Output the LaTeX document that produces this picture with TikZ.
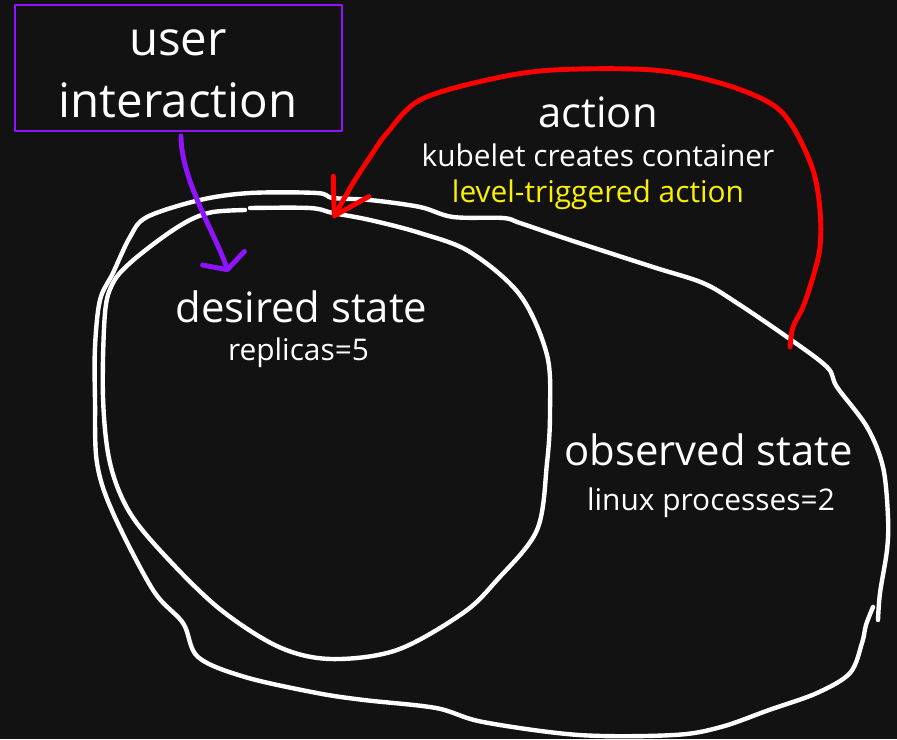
\documentclass[tikz,border=0pt]{standalone}
\usepackage{fontspec}
\setmainfont{Open Sans}
\definecolor{canvasBg}{HTML}{121212}
\definecolor{penRed}{HTML}{FF0000}
\definecolor{penViolet}{HTML}{9013FE}
\definecolor{penYellow}{HTML}{FAF000}
\usetikzlibrary{arrows.meta}

\begin{document}
\begin{tikzpicture}[
    x=0.02cm, y=-0.02cm,
    line cap=round, line join=round,
    blobline/.style={white, line width=2.5pt},
    redpen/.style={penRed, line width=2.8pt},
    violetpen/.style={penViolet, line width=2.8pt},
    uibox/.style={draw=penViolet, line width=1.2pt, minimum width=6.54cm, minimum height=2.52cm, inner sep=0pt},
    uitxt/.style={anchor=base, inner sep=0pt, text=white, font=\fontsize{27}{32}\selectfont},
    bigtxt/.style={anchor=base, inner sep=0pt, text=white, font=\fontsize{23.8}{28}\selectfont},
    smalltxt/.style={anchor=base, inner sep=0pt, text=white, font=\fontsize{17}{20}\selectfont}
  ]
    \fill[canvasBg] (0,0) rectangle (897,739);

    % user box
    \node[uibox] (ui) at (178.5,68) {};
    \node[uitxt] (uiUser) at (178,55) {user};
    \node[uitxt] (uiInter) at (178,117) {interaction};

    % labels
    \node[bigtxt] (act) at (598,127) {action};
    \node[smalltxt] (actWho) at (598,166) {kubelet creates container};
    \node[smalltxt, text=penYellow] (actKind) at (598,202) {level-triggered action};
    \node[bigtxt] (desired) at (301.5,322) {desired state};
    \node[smalltxt] (desiredVal) at (298.5,360) {replicas=5};
    \node[bigtxt] (observed) at (708.5,465) {observed state};
    \node[smalltxt] (observedVal) at (711,510) {linux processes=2};

    % desired state blob
    \draw[blobline] plot[smooth, tension=0.55] coordinates {(250,208) (310,208) (333,213) (370,220) (420,233) (470,252) (520,295) (547,355) (550,413) (547,463) (537,530) (497,580) (463,613) (397,650) (331,659) (279,647) (221,610) (169,560) (130,513) (110,463) (103,397) (105,313) (113,283) (130,263) (163,237) (190,220) (213,212) (245,210)};

    % observed state blob
    \draw[blobline] plot[smooth, tension=0.55] coordinates {(873,607) (866,625) (862,643) (850,673) (817,693) (769,710) (721,727) (674,735) (579,735) (483,722) (436,708) (364,700) (317,693) (245,677) (198,657) (183,623) (153,590) (113,513) (97,463) (95,400) (95,347) (100,300) (113,273) (130,237) (147,217) (200,200) (250,193) (317,193) (333,198) (370,200) (420,207) (453,217) (503,218) (520,223) (570,240) (653,267) (703,283) (737,303) (787,337) (827,367) (837,387) (867,427) (883,467) (888,517) (887,550) (880,593) (878,620)};

    % arrow ends
    \coordinate (obsEdge) at (790,347);
    \coordinate (desTop) at (333,218);
    \coordinate (desIn) at (228,272);

    % action loop
    \draw[redpen, -{Straight Barb[length=0.68cm, width=0.82cm, round]}] plot[smooth, tension=0.55] coordinates {(obsEdge) (793,327) (803,307) (813,277) (820,247) (820,210) (813,170) (793,127) (770,103) (720,83) (653,70) (553,70) (487,80) (420,100) (387,133) (370,157) (353,183)} -- (desTop);

    % user interaction arrow
    \draw[violetpen, -{Straight Barb[length=0.24cm, width=0.88cm, round]}] ([shift={(2.5,4)}]ui.south) .. controls (181,180) and (216,235) .. (desIn);
\end{tikzpicture}
\end{document}
